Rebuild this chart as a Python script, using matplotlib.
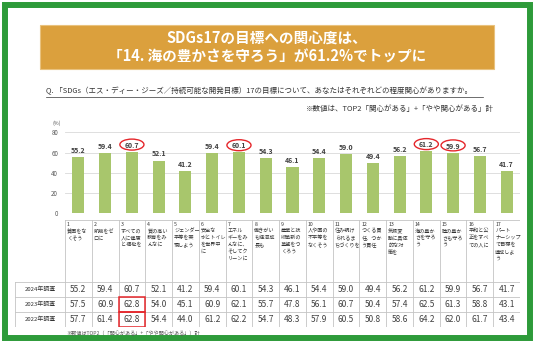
import numpy as np
import matplotlib.pyplot as plt
from matplotlib.patches import Rectangle, Ellipse

plt.rcParams['font.family'] = ['Noto Sans CJK JP', 'DejaVu Sans']

# -----------------------------
# Data
# -----------------------------
goal_labels = [
    "貧困をな\nくそう",
    "飢餓をゼ\nロに",
    "すべての\n人に健康\nと福祉を",
    "質の高い\n教育をみ\nんなに",
    "ジェンダー\n平等を実\n現しよう",
    "安全な\n水とトイレ\nを世界中\nに",
    "エネル\nギーをみ\nんなに、\nそしてク\nリーンに",
    "働きがい\nも経済成\n長も",
    "産業と技\n術革新の\n基盤をつ\nくろう",
    "人や国の\n不平等を\nなくそう",
    "住み続け\nられるま\nちづくりを",
    "つくる責\n任、つか\nう責任",
    "気候変\n動に具体\n的な対\n策を",
    "海の豊か\nさを守ろ\nう",
    "陸の豊か\nさも守ろ\nう",
    "平和と公\n正をすべ\nての人に",
    "パート\nナーシップ\nで目標を\n達成しよ\nう",
]
values_2024 = [55.2, 59.4, 60.7, 52.1, 41.2, 59.4, 60.1, 54.3, 46.1, 54.4, 59.0, 49.4, 56.2, 61.2, 59.9, 56.7, 41.7]
values_2023 = [57.5, 60.9, 62.8, 54.0, 45.1, 60.9, 62.1, 55.7, 47.8, 56.1, 60.7, 50.4, 57.4, 62.5, 61.3, 58.8, 43.1]
values_2022 = [57.7, 61.4, 62.8, 54.4, 44.0, 61.2, 62.2, 54.7, 48.3, 57.9, 60.5, 50.8, 58.6, 64.2, 62.0, 61.7, 43.4]
row_labels = ["2024年調査", "2023年調査", "2022年調査"]
circled = [2, 6, 13, 14]          # goals with a red ellipse on the bar label
boxed = [(1, 2), (2, 2)]           # (row, goal) table cells with a red box

title_lines = ["SDGs17の目標への関心度は、", "「14. 海の豊かさを守ろう」が61.2%でトップに"]
question = "Q. 「SDGs（エス・ディー・ジーズ／持続可能な開発目標）17の目標について、あなたはそれぞれどの程度関心がありますか。"
note_top = "※数値は、TOP2「関心がある」+「やや関心がある」計"
note_bottom = "※数値はTOP2（「関心がある」+「やや関心がある」）計"

# -----------------------------
# Layout helpers (pixels)
# -----------------------------
W, H = 536, 345
fig = plt.figure(figsize=(W / 100, H / 100), dpi=100)

def box(l, t, r, b):
    return [l / W, 1 - b / H, (r - l) / W, (b - t) / H]

green = "#2E9B3A"
bar_color = "#A8C66C"
red = "#E5262B"
text_c = "#404040"
grid_c = "#D9D9D9"
line_c = "#C4C4C4"

# background / decorations
bg = fig.add_axes([0, 0, 1, 1])
bg.set_xlim(0, W)
bg.set_ylim(H, 0)
bg.axis("off")
bg.add_patch(Rectangle((5, 4.5), 524.5, 333, fill=False, ec=green, lw=4.3))
bg.add_patch(Rectangle((40, 25), 454, 44, fc="#DBA03D", ec="#E9C27E", lw=0.8))
bg.text(267, 37.5, title_lines[0], color="white", fontsize=10.5, fontweight="bold",
        ha="center", va="center")
bg.text(267, 57, title_lines[1], color="white", fontsize=10.5, fontweight="bold",
        ha="center", va="center")
bg.text(46, 91, question, fontsize=5.4, color="#333333", ha="left", va="center")
bg.plot([46, 483], [96.5, 96.5], color="#333333", lw=0.5)
bg.text(494, 109, note_top, fontsize=5.4, color="#333333", ha="right", va="center")
bg.text(57, 123, "(%)", fontsize=3.8, color="#595959", ha="center", va="center")
bg.text(66, 332, note_bottom, fontsize=3.7, color="#595959", ha="left", va="center")

# -----------------------------
# Bar chart
# -----------------------------
n = len(values_2024)
x = np.arange(n)
ax = fig.add_axes(box(65, 118, 520, 213))
ax.bar(x, values_2024, width=0.45, color=bar_color, zorder=3)
ax.set_xlim(-0.5, n - 0.5)
ax.set_ylim(0, 94.3)
ax.set_yticks([0, 20, 40, 60, 80])
ax.tick_params(axis="y", length=0, labelsize=4.5, labelcolor="#595959", pad=5)
ax.set_xticks([])
for s in ax.spines.values():
    s.set_visible(False)
ax.grid(axis="y", color=grid_c, lw=0.6, zorder=0)
ax.patch.set_alpha(0)

for i, v in enumerate(values_2024):
    ax.text(i, v + 6.5, f"{v:.1f}", ha="center", va="center", fontsize=5,
            fontweight="bold", color=text_c, zorder=4)
for i in circled:
    ax.add_patch(Ellipse((i, values_2024[i] + 7.2), 0.9, 10.9, fill=False,
                         ec=red, lw=1.0, zorder=5))

# -----------------------------
# Table under the bars
# -----------------------------
colw = 455 / n
lab_w = 50 / colw
tb = fig.add_axes(box(15, 220, 520, 327))
tb.set_xlim(-0.5 - lab_w, n - 0.5)
tb.set_ylim(107, 0)
tb.axis("off")

row_edges = [62, 77, 92, 107]
tb.plot([-0.5, n - 0.5], [0, 0], color=line_c, lw=0.6)
for y in row_edges:
    tb.plot([-0.5 - lab_w, n - 0.5], [y, y], color=line_c, lw=0.6)
for k in range(n + 1):
    tb.plot([k - 0.5, k - 0.5], [0, 107], color=line_c, lw=0.6)
tb.plot([-0.5 - lab_w, -0.5 - lab_w], [62, 107], color=line_c, lw=0.6)

for i, lab in enumerate(goal_labels):
    tb.text(i - 0.5 + 2 / colw, 1.5, f"{i + 1}\n{lab}", ha="left", va="top",
            fontsize=3.7, color="#333333", linespacing=1.45)

rows = [values_2024, values_2023, values_2022]
for r, (name, vals) in enumerate(zip(row_labels, rows)):
    yc = (row_edges[r] + row_edges[r + 1]) / 2
    tb.text(-0.5 - lab_w / 2, yc, name, ha="center", va="center", fontsize=4.3, color="#333333")
    for i, v in enumerate(vals):
        tb.text(i, yc, f"{v:.1f}", ha="center", va="center", fontsize=6, color=text_c)

for r, i in boxed:
    tb.add_patch(Rectangle((i - 0.5, row_edges[r]), 1, row_edges[r + 1] - row_edges[r],
                           fill=False, ec=red, lw=1.1, zorder=5))

fig.savefig("out.png", dpi=100)
